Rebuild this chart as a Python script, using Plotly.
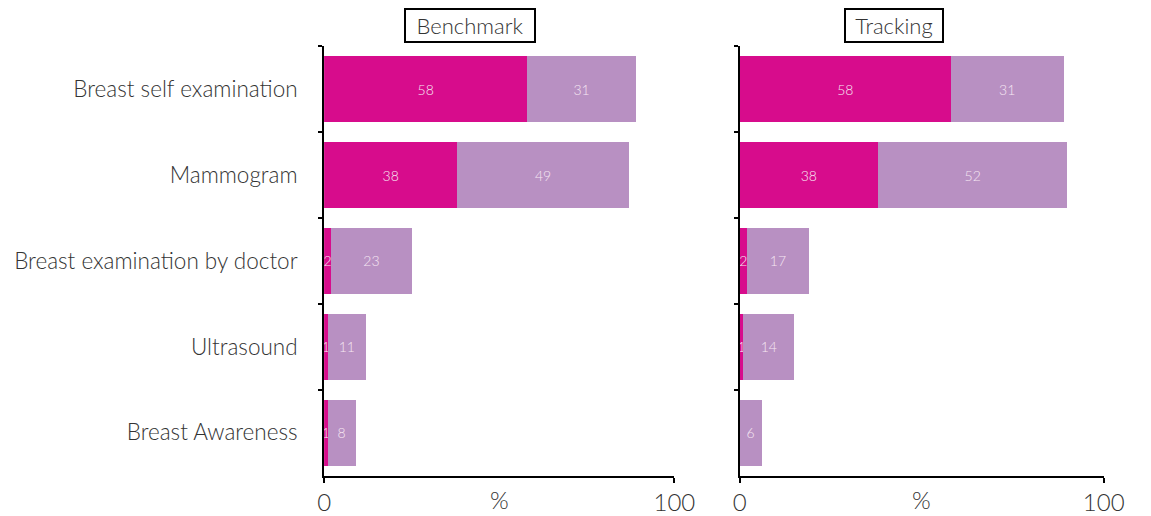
import plotly.graph_objects as go

categories = ["Breast self examination", "Mammogram", "Breast examination by doctor",
              "Ultrasound", "Breast Awareness"]
bench_a = [58, 38, 2, 1, 1]
bench_b = [31, 49, 23, 11, 8]
track_a = [58, 38, 2, 1, 0]
track_b = [31, 52, 17, 14, 6]
panel_titles = ["Benchmark", "Tracking"]
x_ticks = [0, 100]

C_A = "#D70C8C"
C_B = "#B890C2"
FONT = "Lato"
W, H = 1151, 516

def lbl(vals):
    return [str(v) if v else "" for v in vals]

fig = go.Figure()
for i, (a, b) in enumerate([(bench_a, bench_b), (track_a, track_b)]):
    xa = "x" if i == 0 else "x2"
    ya = "y" if i == 0 else "y2"
    for vals, col in [(a, C_A), (b, C_B)]:
        fig.add_trace(go.Bar(
            y=categories, x=vals, orientation="h", marker=dict(color=col, line=dict(width=0)),
            text=lbl(vals), textposition="inside", insidetextanchor="middle",
            constraintext="none", textangle=0,
            textfont=dict(family=FONT, size=14, color="#F6E6F2", weight=300),
            xaxis=xa, yaxis=ya, showlegend=False, width=0.77, hoverinfo="skip"))

ytop = 1 - 47 / H
ybot = 1 - 483 / H
dom1 = [325 / W, 684 / W]
dom2 = [751 / W, 1124 / W]

xcommon = dict(range=[0, 100], tickvals=x_ticks, showgrid=False, zeroline=False,
               showline=True, linecolor="black", linewidth=2, ticks="outside",
               ticklen=5, tickcolor="black", tickwidth=2,
               tickfont=dict(family=FONT, size=24, color="#333333", weight=300))
ycommon = dict(categoryorder="array", categoryarray=categories, autorange="reversed",
               showgrid=False, zeroline=False, showline=True, linecolor="black",
               linewidth=2, ticks="outside", ticklen=4, tickcolor="black", tickwidth=2,
               tickson="boundaries", domain=[ybot, ytop])

fig.update_layout(
    width=W, height=H, autosize=False, margin=dict(l=0, r=0, t=0, b=0, pad=0),
    plot_bgcolor="white", paper_bgcolor="white", barmode="stack", bargap=0.23,
    font=dict(family=FONT, color="#333333"),
    xaxis=dict(domain=dom1, anchor="y", **xcommon),
    xaxis2=dict(domain=dom2, anchor="y2", **xcommon),
    yaxis=dict(anchor="x", tickfont=dict(family=FONT, size=22.5, color="#333333", weight=300),
               ticklabelstandoff=20, **ycommon),
    yaxis2=dict(anchor="x2", showticklabels=False, **ycommon),
)

for xa, title, cx, bw in [("x", panel_titles[0], 475, 124), ("x2", panel_titles[1], 909, 92)]:
    fig.add_annotation(x=50, xref=xa, y=1 - 507 / H, yref="paper", text="%",
                       xanchor="center", yanchor="middle", showarrow=False,
                       font=dict(family=FONT, size=24, color="#333333", weight=300))
    fig.add_annotation(x=cx / W, xref="paper", y=1 - 26 / H, yref="paper", text=title,
                       xanchor="center", yanchor="middle", showarrow=False,
                       width=bw, height=27, align="center",
                       bordercolor="black", borderwidth=2, borderpad=2,
                       bgcolor="white", font=dict(family=FONT, size=22, color="#333333", weight=300))

fig.write_html("out.html")
